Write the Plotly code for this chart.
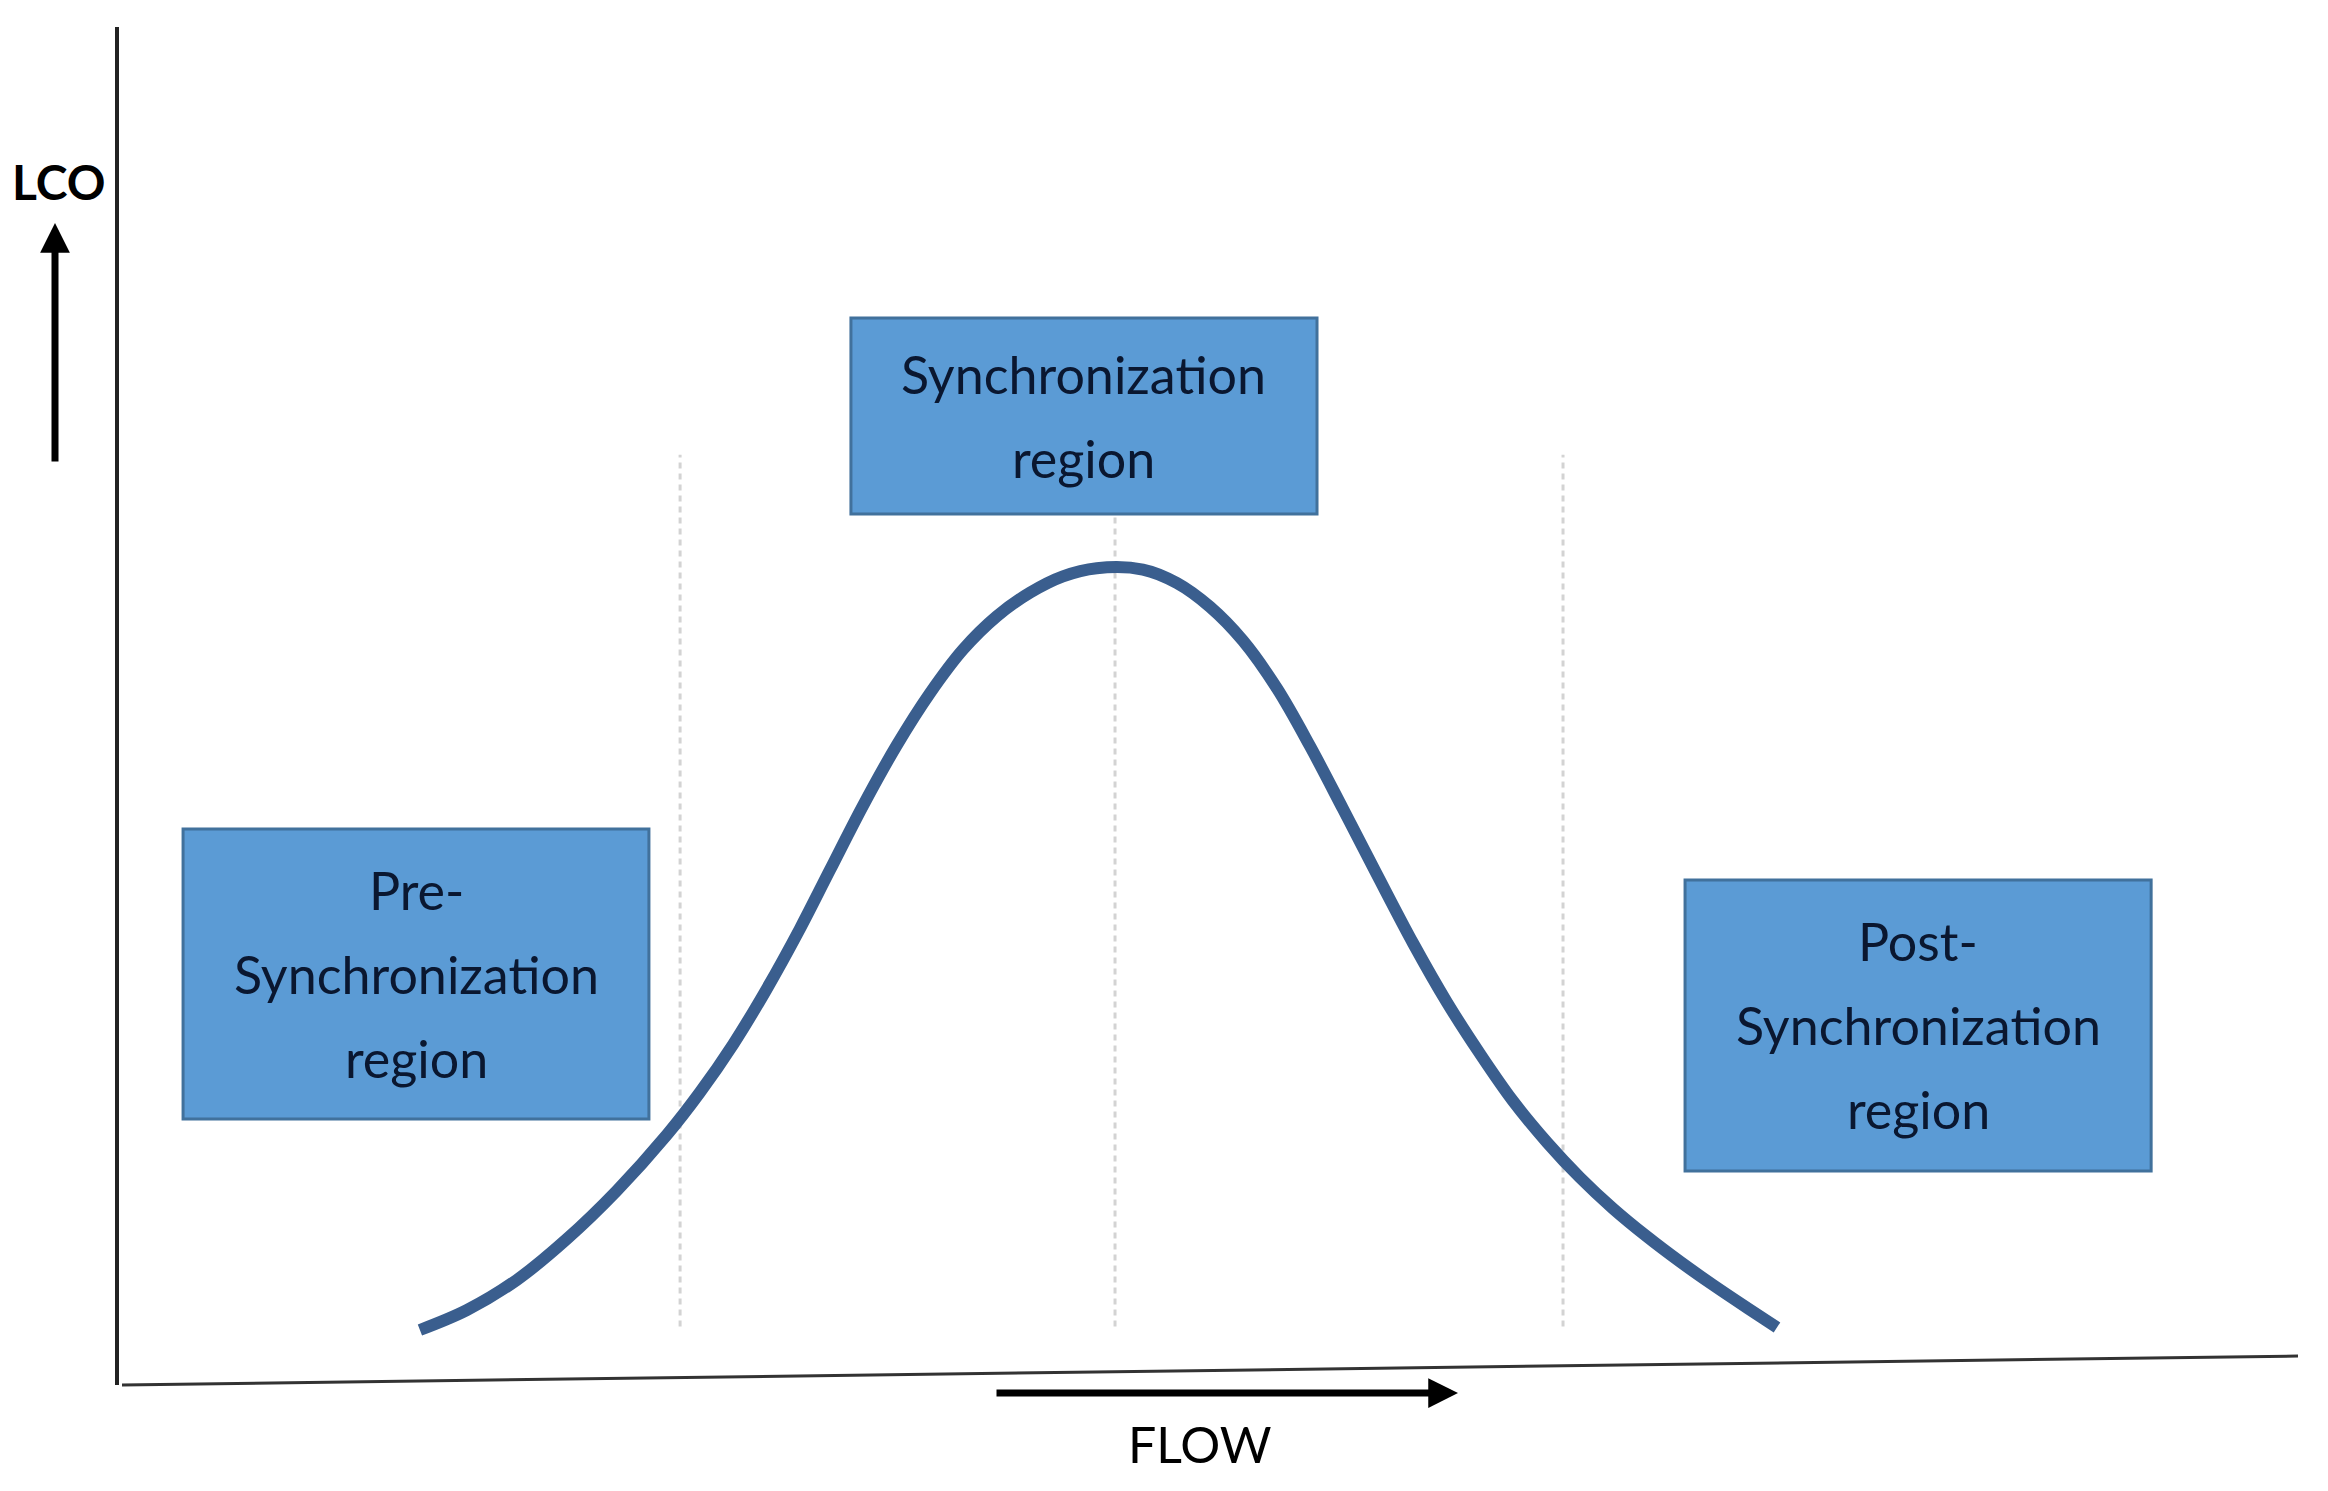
import plotly.graph_objects as go

# ---- data (arbitrary units: FLOW 0-100, LCO 0-100) ----
flow_x = [13.81, 15.96, 18.25, 20.55, 22.84, 25.14, 26.66, 28.19, 29.72, 31.25,
          32.62, 34.14, 35.69, 37.22, 38.73, 40.28, 41.81, 43.32, 44.87,
          46.99, 48.55, 50.07, 51.58, 53.14, 54.66, 56.17, 57.73, 59.39, 60.95,
          62.46, 63.97, 65.53, 67.05, 68.56, 70.12, 71.64, 73.15, 74.71, 76.09]
lco_y = [4.05, 5.51, 7.73, 10.75, 14.30, 18.42, 21.55, 25.10, 29.15, 33.60,
         37.90, 42.65, 47.10, 50.95, 54.15, 56.60, 58.35, 59.55, 60.15,
         60.05, 59.06, 57.30, 54.81, 51.30, 47.04, 42.43, 37.59, 32.53, 28.16,
         24.39, 20.92, 17.88, 15.27, 13.00, 10.93, 9.08, 7.37, 5.69, 4.24]

boundary_x = [25.75, 45.71, 66.27]
boundary_top = [68.5, 64.0, 68.5]
boundary_bottom = [4.3, 4.3, 4.3]

region_labels = [
    ["Pre-", "Synchronization", "region"],
    ["Synchronization", "region"],
    ["Post-", "Synchronization", "region"],
]
region_x0 = [2.94, 33.59, 71.87]
region_x1 = [24.32, 54.98, 93.26]
region_y0 = [19.59, 64.14, 15.76]
region_y1 = [40.94, 78.57, 37.19]

x_title = "FLOW"
y_title = "LCO"

# ---- geometry (page pixels) ----
PAGE_OFF = 8                      # default body margin of the html page
PL, PR, PT, PB = 119, 2298, 27, 1385   # plot area edges on the page
W, H = 2328 - 2 * PAGE_OFF, 1491 - 2 * PAGE_OFF
ML, MT = PL - PAGE_OFF, PT - PAGE_OFF
MR = W - ML - (PR - PL)
MB = H - MT - (PB - PT)
plot_w, plot_h = PR - PL, PB - PT
y_unit_px = plot_h / 100.0


def px_x(X):
    return (X - PL) / plot_w


def px_y(Y):
    return (PB - Y) / plot_h


FONT = "Lato, 'Open Sans', sans-serif"
TEXT_COLOR = "#0a1730"
BOX_FILL = "#5B9BD5"
BOX_LINE = "#41719C"
CURVE_COLOR = "#3A5E8E"

fig = go.Figure()

# dotted region boundaries
for bx, bt, bb in zip(boundary_x, boundary_top, boundary_bottom):
    fig.add_trace(go.Scatter(
        x=[bx, bx], y=[bb, bt], mode="lines",
        line=dict(color="#d3d3d3", width=3, dash="6px,5px"),
        hoverinfo="skip", showlegend=False))

# LCO vs FLOW curve
fig.add_trace(go.Scatter(
    x=flow_x, y=lco_y, mode="lines",
    line=dict(color=CURVE_COLOR, width=12, shape="spline", smoothing=1.0),
    showlegend=False, hoverinfo="skip"))

# region boxes with labels
line_gap = 84 / y_unit_px
for labels, x0, x1, y0, y1 in zip(region_labels, region_x0, region_x1, region_y0, region_y1):
    fig.add_shape(type="rect", xref="x", yref="y", x0=x0, x1=x1, y0=y0, y1=y1,
                  fillcolor=BOX_FILL, line=dict(color=BOX_LINE, width=3), layer="above")
    cx = (x0 + x1) / 2
    cy = (y0 + y1) / 2
    n = len(labels)
    for i, lab in enumerate(labels):
        yy = cy + ((n - 1) / 2 - i) * line_gap
        fig.add_annotation(x=cx, y=yy, xref="x", yref="y", text=lab, showarrow=False,
                           font=dict(family=FONT, size=52, color=TEXT_COLOR),
                           xanchor="center", yanchor="middle")

# slanted x-axis line
fig.add_shape(type="line", xref="paper", yref="paper",
              x0=px_x(122), y0=px_y(1385), x1=px_x(2298), y1=px_y(1356),
              line=dict(color="#333333", width=3))

# axis arrows
fig.add_annotation(xref="paper", yref="paper", x=px_x(55), y=px_y(223),
                   ax=0, ay=240, showarrow=True, arrowhead=2, arrowsize=0.85, arrowwidth=7,
                   arrowcolor="#000000", text="")
fig.add_annotation(xref="paper", yref="paper", x=px_x(1458), y=px_y(1393),
                   ax=-463, ay=0, showarrow=True, arrowhead=2, arrowsize=0.85, arrowwidth=7,
                   arrowcolor="#000000", text="")

# axis titles
fig.add_annotation(xref="paper", yref="paper", x=px_x(59), y=px_y(181),
                   text="<b>" + y_title + "</b>", showarrow=False,
                   font=dict(family=FONT, size=48, color="#000000"),
                   xanchor="center", yanchor="middle")
fig.add_annotation(xref="paper", yref="paper", x=px_x(1200), y=px_y(1444),
                   text=x_title, showarrow=False,
                   font=dict(family=FONT, size=50, color="#000000"),
                   xanchor="center", yanchor="middle")

fig.update_layout(
    width=W, height=H,
    margin=dict(l=ML, r=MR, t=MT, b=MB, pad=0),
    paper_bgcolor="white", plot_bgcolor="white",
    showlegend=False,
    xaxis=dict(range=[0, 100], showgrid=False, zeroline=False, showticklabels=False,
               ticks="", showline=False, fixedrange=True),
    yaxis=dict(range=[0, 100], showgrid=False, zeroline=False, showticklabels=False,
               ticks="", showline=True, linecolor="#222222", linewidth=4, fixedrange=True),
)

fig.write_html("out.html")
